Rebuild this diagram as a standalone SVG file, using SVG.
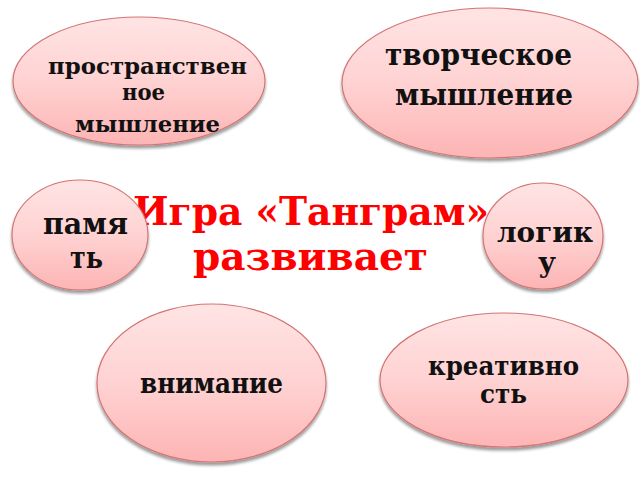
<svg xmlns="http://www.w3.org/2000/svg" width="640" height="480" viewBox="0 0 640 480">
<defs>
<linearGradient id="pink" x1="0" y1="0" x2="0" y2="1">
<stop offset="0" stop-color="#ffe4e4"/>
<stop offset="0.5" stop-color="#ffd2d2"/>
<stop offset="1" stop-color="#fdb4b4"/>
</linearGradient>
<filter id="shadow" x="-10%" y="-10%" width="120%" height="125%">
<feGaussianBlur in="SourceAlpha" stdDeviation="1.6"/>
<feOffset dx="0" dy="2.5" result="b"/>
<feComponentTransfer><feFuncA type="linear" slope="0.4"/></feComponentTransfer>
<feMerge><feMergeNode/><feMergeNode in="SourceGraphic"/></feMerge>
</filter>
</defs>
<style>
.node ellipse{fill:url(#pink);stroke:#d27474;stroke-width:1.2;filter:url(#shadow)}
.node text{font-family:"DejaVu Serif","Liberation Serif",serif;font-weight:bold;fill:#111;text-anchor:middle}
.title{font-family:"DejaVu Serif","Liberation Serif",serif;font-weight:bold;fill:#ff0000;text-anchor:middle;font-size:39px}
</style>
<rect width="640" height="480" fill="#ffffff"/>
<g id="title">
<text class="title" x="311" y="225" textLength="356" lengthAdjust="spacingAndGlyphs">Игра «Танграм»</text>
<text class="title" x="310.5" y="270" textLength="235" lengthAdjust="spacingAndGlyphs">развивает</text>
</g>
<g id="connectors"/>
<g id="node-spatial" class="node">
<ellipse cx="139" cy="81" rx="126" ry="64"/>
<text x="147.5" y="74" font-size="22" textLength="199" lengthAdjust="spacingAndGlyphs">пространствен</text>
<text x="143.5" y="100" font-size="22" textLength="43" lengthAdjust="spacingAndGlyphs">ное</text>
<text x="147.5" y="132" font-size="22" textLength="145" lengthAdjust="spacingAndGlyphs">мышление</text>
</g>
<g id="node-creative-thinking" class="node">
<ellipse cx="490" cy="83" rx="148" ry="75"/>
<text x="478.5" y="65" font-size="29" textLength="187" lengthAdjust="spacingAndGlyphs">творческое</text>
<text x="484" y="105" font-size="29" textLength="178" lengthAdjust="spacingAndGlyphs">мышление</text>
</g>
<g id="node-memory" class="node">
<ellipse cx="80" cy="235" rx="68" ry="55"/>
<text x="85.5" y="234" font-size="29" textLength="85" lengthAdjust="spacingAndGlyphs">памя</text>
<text x="86.5" y="268" font-size="29" textLength="33" lengthAdjust="spacingAndGlyphs">ть</text>
</g>
<g id="node-logic" class="node">
<ellipse cx="543" cy="236" rx="60" ry="53"/>
<text x="545" y="242" font-size="28" textLength="96" lengthAdjust="spacingAndGlyphs">логик</text>
<text x="547" y="272" font-size="28" textLength="18" lengthAdjust="spacingAndGlyphs">у</text>
</g>
<g id="node-attention" class="node">
<ellipse cx="211.5" cy="383" rx="114.5" ry="79"/>
<text x="211.5" y="393" font-size="27" textLength="143" lengthAdjust="spacingAndGlyphs">внимание</text>
</g>
<g id="node-creativity" class="node">
<ellipse cx="504" cy="380" rx="124" ry="67"/>
<text x="503.5" y="375" font-size="26" textLength="151" lengthAdjust="spacingAndGlyphs">креативно</text>
<text x="503.5" y="403" font-size="26" textLength="47" lengthAdjust="spacingAndGlyphs">сть</text>
</g>
</svg>
